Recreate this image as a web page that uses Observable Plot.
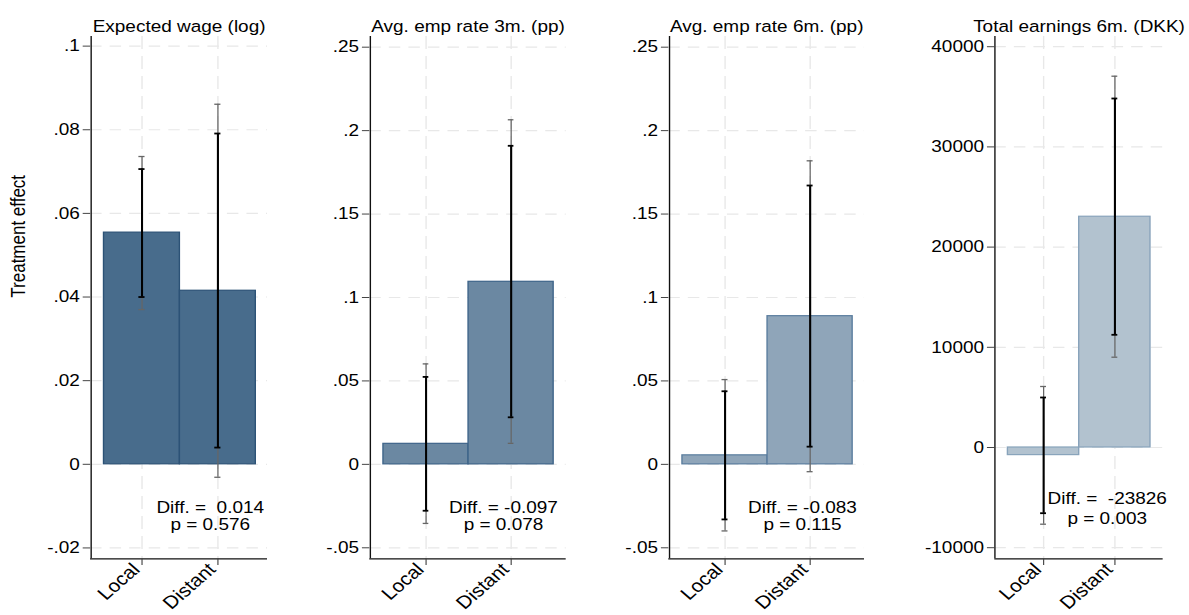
<!DOCTYPE html>
<html>
<head>
<meta charset="utf-8">
<script src="https://cdn.jsdelivr.net/npm/d3@7"></script>
<script src="https://cdn.jsdelivr.net/npm/@observablehq/plot@0.6"></script>
<style>
  html, body { margin: 0; padding: 0; background: #fff; overflow: hidden; }
  #stage { position: relative; width: 1034px; height: 615px; transform: scaleX(1.15); transform-origin: 0 0; }
  #stage svg { position: absolute; top: 0; overflow: visible; max-width: none; }
  #stage svg text { white-space: pre; }
</style>
</head>
<body>
<div id="stage"></div>
<script>
// ---- data ----
const categories = ["Local", "Distant"];
const titles = ["Expected wage (log)", "Avg. emp rate 3m. (pp)", "Avg. emp rate 6m. (pp)", "Total earnings 6m. (DKK)"];

const wageCoef = [0.0554, 0.0415];
const wageLo90 = [0.0400, 0.0040];
const wageHi90 = [0.0706, 0.0791];
const wageLo95 = [0.0370, -0.0031];
const wageHi95 = [0.0736, 0.0861];

const emp3Coef = [0.0123, 0.1094];
const emp3Lo90 = [-0.0278, 0.0282];
const emp3Hi90 = [0.0524, 0.1909];
const emp3Lo95 = [-0.0354, 0.0126];
const emp3Hi95 = [0.0602, 0.2065];

const emp6Coef = [0.0054, 0.0888];
const emp6Lo90 = [-0.0330, 0.0106];
const emp6Hi90 = [0.0438, 0.1671];
const emp6Lo95 = [-0.0399, -0.0044];
const emp6Hi95 = [0.0508, 0.1819];

const earnCoef = [-760, 23030];
const earnLo90 = [-6557, 11248];
const earnHi90 = [4990, 34830];
const earnLo95 = [-7655, 9012];
const earnHi95 = [6088, 37056];

// Stata-style padded values (leading non-breaking space where the original shows two spaces)
const diffLabels = ["\u00a00.014", "-0.097", "-0.083", "\u00a0-23826"];
const pLabels = ["0.576", "0.078", "0.115", "0.003"];

const wageTicks = [-0.02, 0, 0.02, 0.04, 0.06, 0.08, 0.1];
const wageTickLabels = ["-.02", "0", ".02", ".04", ".06", ".08", ".1"];
const empTicks = [-0.05, 0, 0.05, 0.1, 0.15, 0.2, 0.25];
const empTickLabels = ["-.05", "0", ".05", ".1", ".15", ".2", ".25"];
const earnTicks = [-10000, 0, 10000, 20000, 30000, 40000];
const earnTickLabels = ["-10000", "0", "10000", "20000", "30000", "40000"];

const yTitle = "Treatment effect";

// ---- layout / style ----
const FONT = "'Liberation Sans', Arial, Helvetica, sans-serif";
const INSET_L = 11, INSET_R = 10, CAP_W = 5.8;
const panels = [
  {left: 0,   width: 260, ml: 78.3, mr: 27.8, domain: [-0.0226, 0.1023], ticks: wageTicks, labels: wageTickLabels,
   coef: wageCoef, lo90: wageLo90, hi90: wageHi90, lo95: wageLo95, hi95: wageHi95,
   fill: "#486c8c", stroke: "#2c5276", noteY: -0.0157, lh: 1.03, yTitle: true},
  {left: 260, width: 260, ml: 61.1, mr: 28.1, domain: [-0.0566, 0.2564], ticks: empTicks, labels: empTickLabels,
   coef: emp3Coef, lo90: emp3Lo90, hi90: emp3Hi90, lo95: emp3Lo95, hi95: emp3Hi95,
   fill: "#6b88a2", stroke: "#3e6489", noteY: -0.0393, lh: 1.03},
  {left: 520, width: 260, ml: 61.1, mr: 28.7, domain: [-0.0566, 0.2564], ticks: empTicks, labels: empTickLabels,
   coef: emp6Coef, lo90: emp6Lo90, hi90: emp6Hi90, lo95: emp6Lo95, hi95: emp6Hi95,
   fill: "#8fa5b9", stroke: "#5a7d9e", noteY: -0.0393, lh: 1.03},
  {left: 780, width: 254, ml: 84.6, mr: 23, domain: [-11108, 41018], ticks: earnTicks, labels: earnTickLabels,
   coef: earnCoef, lo90: earnLo90, hi90: earnHi90, lo95: earnLo95, hi95: earnHi95,
   fill: "#b2c2cf", stroke: "#88a3bb", noteY: -7615, lh: 1.18}
];

const stage = document.getElementById("stage");

panels.forEach((p, k) => {
  const data = categories.map((c, i) => ({
    cat: c, coef: p.coef[i], lo90: p.lo90[i], hi90: p.hi90[i], lo95: p.lo95[i], hi95: p.hi95[i]
  }));
  const bw = (p.width - p.ml - p.mr - INSET_L - INSET_R) / categories.length;
  const capInset = (bw - CAP_W) / 2;
  const note = "Diff. = " + diffLabels[k] + "\np = " + pLabels[k];
  const gridColor = "#e8e8e8";
  const marks = [
    Plot.gridY({ticks: p.ticks, stroke: gridColor, strokeOpacity: 1, strokeWidth: 1.2, strokeDasharray: "10,7"}),
    Plot.gridX({stroke: gridColor, strokeOpacity: 1, strokeWidth: 1.2, strokeDasharray: "13,7"}),
    Plot.barY(data, {x: "cat", y: "coef", fill: p.fill, stroke: p.stroke, strokeWidth: 1.2}),
    Plot.ruleX(data, {x: "cat", y1: "lo95", y2: "hi95", stroke: "#666", strokeWidth: 1.1}),
    Plot.tickY(data, {x: "cat", y: "lo95", stroke: "#666", strokeWidth: 1.3, insetLeft: capInset, insetRight: capInset}),
    Plot.tickY(data, {x: "cat", y: "hi95", stroke: "#666", strokeWidth: 1.3, insetLeft: capInset, insetRight: capInset}),
    Plot.ruleX(data, {x: "cat", y1: "lo90", y2: "hi90", stroke: "#000", strokeWidth: 1.8}),
    Plot.tickY(data, {x: "cat", y: "lo90", stroke: "#000", strokeWidth: 1.8, insetLeft: capInset, insetRight: capInset}),
    Plot.tickY(data, {x: "cat", y: "hi90", stroke: "#000", strokeWidth: 1.8, insetLeft: capInset, insetRight: capInset}),
    Plot.ruleY([p.domain[0]], {stroke: "#111", strokeWidth: 1.3}),
    Plot.ruleX([categories[0]], {dx: -(bw / 2 + INSET_L), stroke: "#111", strokeWidth: 1.2}),
    Plot.axisY({ticks: p.ticks, tickFormat: d => p.labels[p.ticks.indexOf(d)], tickSize: 6.4, tickPadding: 3, stroke: "#444", label: null}),
    Plot.axisX({tickRotate: -45, tickSize: 6.7, tickPadding: 0, stroke: "#444", fontSize: 18, label: null, textStroke: "none"}),
    Plot.text([titles[k]], {frameAnchor: "top", lineAnchor: "bottom", dy: -4.7, fill: "#000"}),
    Plot.text([note], {x: () => categories[1], y: () => p.noteY, dx: -6.7, lineAnchor: "bottom", lineHeight: p.lh, fill: "#000"})
  ];
  if (p.yTitle) {
    marks.push(Plot.text([yTitle], {frameAnchor: "left", rotate: -90, dx: -(p.ml - 15.9), lineAnchor: "middle", fill: "#000", fontSize: 17}));
  }
  const svg = Plot.plot({
    width: p.width,
    height: 615,
    marginLeft: p.ml,
    marginRight: p.mr,
    marginTop: 36,
    marginBottom: 56.7,
    style: {fontFamily: FONT, fontSize: "16.5px", color: "#000", background: "transparent", overflow: "visible"},
    x: {domain: categories, padding: 0, insetLeft: INSET_L, insetRight: INSET_R},
    y: {domain: p.domain},
    marks
  });
  // nudge the rotated category labels so their ends meet the tick ends, as in the original
  svg.querySelectorAll('g[aria-label="x-axis tick label"]').forEach(g => {
    const t = g.getAttribute("transform") || "";
    g.setAttribute("transform", t + " translate(-5,1)");
  });
  svg.style.left = p.left + "px";
  stage.appendChild(svg);
});
</script>
</body>
</html>
